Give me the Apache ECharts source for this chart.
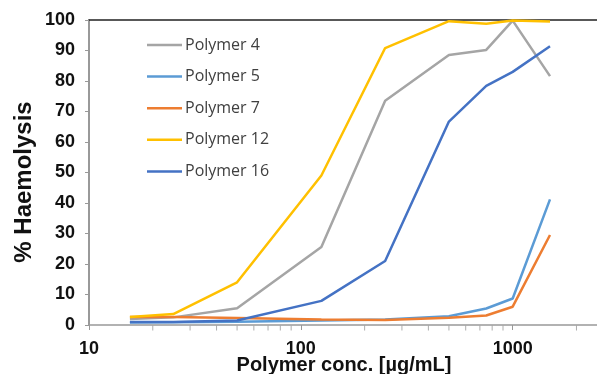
<!DOCTYPE html>
<html><head><meta charset="utf-8">
<script src="https://cdn.jsdelivr.net/npm/echarts@6/dist/echarts.min.js"></script>
<style>html,body{margin:0;padding:0;background:#fff}#c{width:597px;height:374px}</style>
</head><body><div id="c"></div>
<script>
const conc = [15.6, 25, 50, 125, 250, 500, 750, 1000, 1500];
const polymer4 = [2, 2.5, 5.5, 25.6, 73.5, 88.5, 90.2, 99.8, 81.6];
const polymer5 = [0.8, 0.9, 1.1, 1.5, 1.8, 2.9, 5.4, 8.7, 41.2];
const polymer7 = [2.6, 2.6, 2.3, 1.8, 1.6, 2.4, 3.1, 6, 29.5];
const polymer12 = [2.6, 3.6, 14, 49, 90.8, 99.6, 98.8, 99.8, 99.5];
const polymer16 = [1, 1, 1.5, 7.9, 21, 66.7, 78.4, 83, 91.4];
const minorTicks = [20,30,40,50,60,70,80,90,200,300,400,500,600,700,800,900,2000];
const names = ['Polymer 4','Polymer 5','Polymer 7','Polymer 12','Polymer 16'];
const colors = ['#a5a5a5','#5b9bd5','#ed7d31','#ffc000','#4472c4'];
const vals = [polymer4, polymer5, polymer7, polymer12, polymer16];
const font = 'Liberation Sans';
const series = vals.map((v,i)=>({
  name:names[i], type:'line', data:conc.map((c,j)=>[c,v[j]]),
  showSymbol:false, symbol:'none', clip:false,
  lineStyle:{color:colors[i], width:2.5}, itemStyle:{color:colors[i]}
}));
series.push({
  type:'scatter', silent:true, data:minorTicks.map(t=>[t,0]),
  symbol:'rect', symbolSize:[1,5], symbolOffset:[0,3],
  itemStyle:{color:'#999'}, z:1
});
const chart = echarts.init(document.getElementById('c'));
chart.setOption({
  animation:false,
  legend:{
    data:names, icon:'path://M0,0L14,0L14,1L0,1Z',
    orient:'vertical', left:142, top:32, itemWidth:35, itemHeight:2.5, itemGap:15.6,
    textStyle:{fontFamily:'Open Sans', fontSize:16, color:'#404040', padding:[0,0,0,-2]}
  },
  grid:{left:89, top:20, right:0, bottom:49, outerBoundsMode:'none', containLabel:false},
  graphic:[{
    type:'text', x:24, y:182, rotation:Math.PI/2,
    style:{text:'% Haemolysis', fontFamily:font, fontSize:24, fontWeight:'bold', fill:'#111',
      textAlign:'center', textVerticalAlign:'middle'}
  },{
    type:'text', x:344, y:365,
    style:{text:'Polymer conc. [µg/mL]', fontFamily:font, fontSize:20, fontWeight:'bold', fill:'#111',
      textAlign:'center', textVerticalAlign:'middle'}
  }],
  xAxis:[{
    type:'log', logBase:10, min:10, max:2500,
    axisLine:{lineStyle:{color:'#999', width:1.5}},
    axisTick:{show:true, length:5, inside:false, lineStyle:{color:'#999'}},
    splitLine:{show:false},
    axisLabel:{fontFamily:font, fontSize:18, fontWeight:'bold', color:'#111', margin:15, showMaxLabel:false,
      formatter:v=>String(Math.round(v))}
  },{
    type:'log', logBase:10, min:10, max:2500, position:'top',
    axisLine:{show:true, lineStyle:{color:'#222', width:1.5}},
    axisTick:{show:false}, axisLabel:{show:false}, splitLine:{show:false}
  }],
  yAxis:{
    type:'value', min:0, max:100, interval:10,
    axisLine:{show:true, lineStyle:{color:'#777', width:1.5}},
    axisTick:{show:true, length:4, lineStyle:{color:'#999'}},
    splitLine:{show:false},
    axisLabel:{fontFamily:font, fontSize:18, fontWeight:'bold', color:'#111', margin:14}
  },
  series:series
});
</script></body></html>
